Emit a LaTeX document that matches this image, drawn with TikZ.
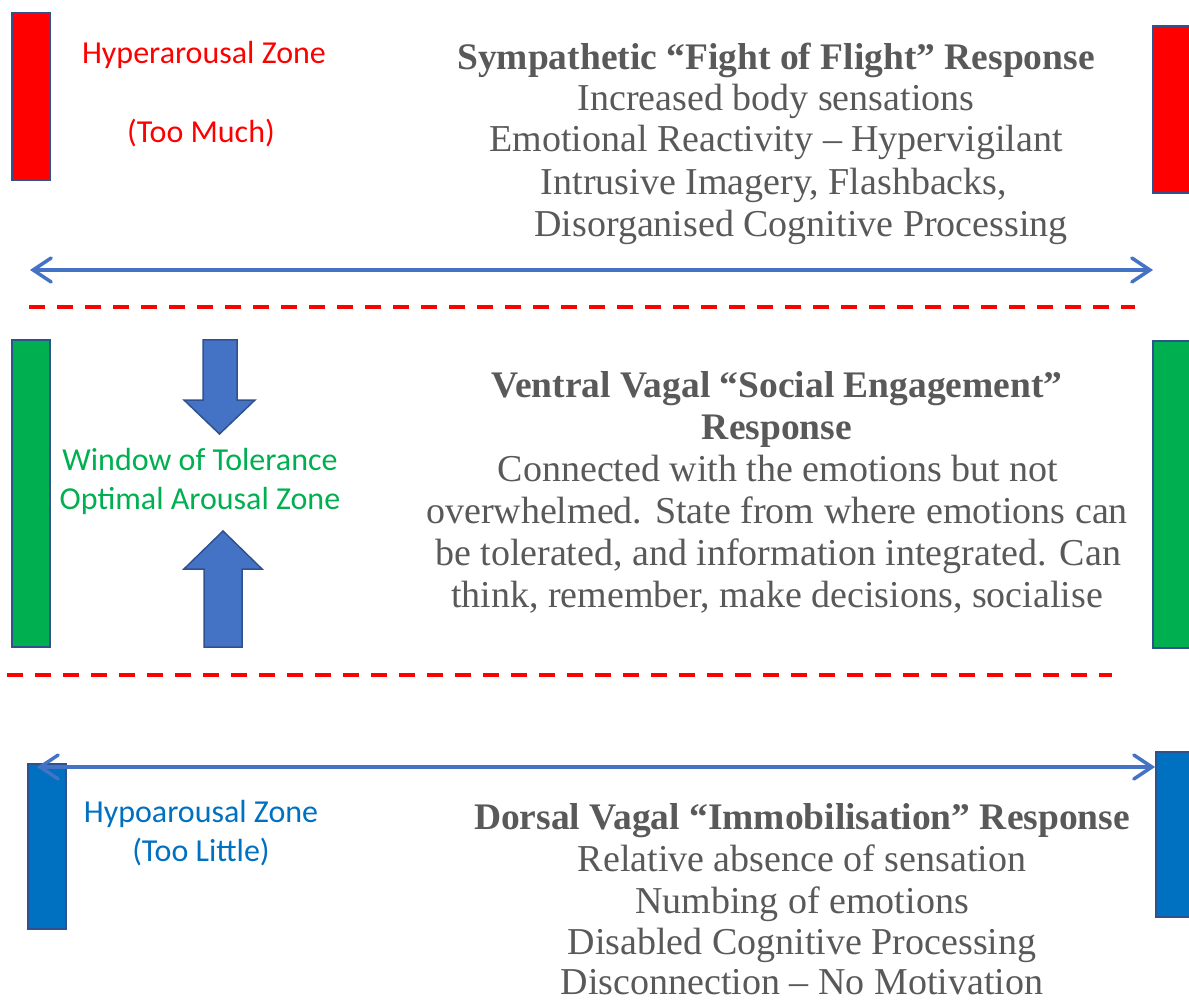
\documentclass[tikz,border=0pt]{standalone}
\usepackage{fontspec}
\setmainfont{Liberation Serif}
\newfontfamily\calib{Carlito}
\usetikzlibrary{arrows.meta}
\definecolor{txtgray}{HTML}{595959}
\definecolor{zred}{HTML}{FF0000}
\definecolor{zgreen}{HTML}{00B050}
\definecolor{zblue}{HTML}{0070C0}
\definecolor{arrblue}{HTML}{4472C4}
\definecolor{edgeblue}{HTML}{2F528F}
\tikzset{
  bar/.style={draw=edgeblue, line width=2pt, rectangle, inner sep=0pt, outer sep=0pt},
  blockarrow/.style={draw=edgeblue, line width=1.5pt, fill=arrblue, line join=miter},
  zonetxt/.style={font=\calib\fontsize{32}{36}\selectfont, anchor=base, inner sep=0pt},
  graytxt/.style={font=\fontsize{38}{42}\selectfont, text=txtgray, anchor=base, inner sep=0pt},
  graybold/.style={graytxt, font=\fontsize{37.5}{42}\selectfont\bfseries},
  sepline/.style={draw=zred, line width=3.3pt, dash pattern=on 16pt off 12pt},
  dblarrow/.style={draw=arrblue, line width=3.5pt, {Straight Barb[length=18pt,width=24pt,line cap=round]}-{Straight Barb[length=18pt,width=24pt,line cap=round]}}
}
\begin{document}
\begin{tikzpicture}[x=1pt,y=-1pt]
\useasboundingbox (0,0) rectangle (1189,1000);
\clip (0,0) rectangle (1189,1000);

% bars
\node[bar, fill=zred, minimum width=38pt, minimum height=167pt] (redL) at (31,96.5) {};
\node[bar, fill=zred, minimum width=40pt, minimum height=167pt] (redR) at (1173,109.5) {};
\node[bar, fill=zgreen, minimum width=38pt, minimum height=307pt] (grnL) at (31,493.5) {};
\node[bar, fill=zgreen, minimum width=40pt, minimum height=307pt] (grnR) at (1173,494.5) {};
\node[bar, fill=zblue, minimum width=38pt, minimum height=165pt] (bluL) at (47,846.5) {};
\node[bar, fill=zblue, minimum width=38pt, minimum height=165pt] (bluR) at (1175,834.5) {};

% double arrows
\coordinate (topL) at (30,270);
\coordinate (topR) at (1153,270);
\draw[dblarrow] (topL) -- (topR);
\coordinate (botL) at (37,767);
\coordinate (botR) at (1155,767);
\draw[dblarrow] (botL) -- (botR);

% dashed separators
\coordinate (d1a) at (29,307);
\coordinate (d1b) at (1135,307);
\draw[sepline] (d1a) -- (d1b);
\coordinate (d2a) at (7,675);
\coordinate (d2b) at (1112,675);
\draw[sepline] (d2a) -- (d2b);

% block arrows
\draw[blockarrow] (203,340) -- (237,340) -- (237,400) -- (255,400) -- (219.5,434) -- (184,400) -- (203,400) -- cycle;
\draw[blockarrow] (204,647) -- (242,647) -- (242,569) -- (262,569) -- (223,531) -- (184,569) -- (204,569) -- cycle;

% zone labels
\node[zonetxt, text=zred] (hyp1) at (204,64) {Hyperarousal Zone};
\node[zonetxt, text=zred] (hyp2) at (201,143) {(Too Much)};
\node[zonetxt, text=zgreen] (win1) at (200,470) {Window of Tolerance};
\node[zonetxt, text=zgreen] (win2) at (200,509) {Optimal Arousal Zone};
\node[zonetxt, text=zblue] (hpo1) at (201,822) {Hypoarousal Zone};
\node[zonetxt, text=zblue] (hpo2) at (201,861) {(Too Little)};

% sympathetic
\node[graybold] (s0) at (776,70) {Sympathetic “Fight of Flight” Response};
\node[graytxt] (s1) at (776,111) {Increased body sensations};
\node[graytxt] (s2) at (776,152) {Emotional Reactivity – Hypervigilant};
\node[graytxt] (s3) at (774,195) {Intrusive Imagery, Flashbacks,};
\node[graytxt] (s4) at (801,237) {Disorganised Cognitive Processing};

% ventral
\node[graybold] (v0) at (777,397) {Ventral Vagal “Social Engagement”};
\node[graybold] (v1) at (777,439) {Response};
\node[graytxt] (v2) at (778,481) {Connected with the emotions but not};
\node[graytxt] (v3) at (777,523) {overwhelmed. State from where emotions can};
\node[graytxt] (v4) at (778,565) {be tolerated, and information integrated. Can};
\node[graytxt] (v5) at (777,607) {think, remember, make decisions, socialise};

% dorsal
\node[graybold] (d0) at (802,829) {Dorsal Vagal “Immobilisation” Response};
\node[graytxt] (d1) at (802,871) {Relative absence of sensation};
\node[graytxt] (d2) at (802,913) {Numbing of emotions};
\node[graytxt] (d3) at (802,954) {Disabled Cognitive Processing};
\node[graytxt] (d4) at (802,994) {Disconnection – No Motivation};
\end{tikzpicture}
\end{document}
